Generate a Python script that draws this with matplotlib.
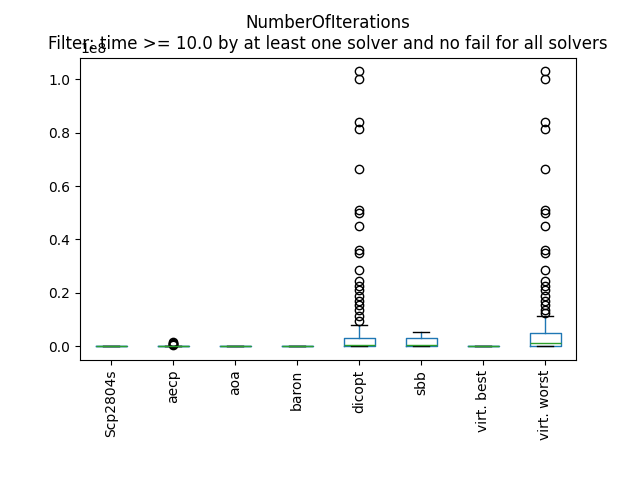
import matplotlib
matplotlib.use("Agg")
import matplotlib.pyplot as plt

labels = ["Scp2804s", "aecp", "aoa", "baron", "dicopt", "sbb", "virt. best", "virt. worst"]
# statistics in millions of iterations
q1 = [0.0, 0.0, 0.0, 0.0, 0.1, 0.05, 0.0, 0.2]
med = [0.01, 0.02, 0.01, 0.01, 0.6, 0.3, 0.01, 1.2]
q3 = [0.05, 0.1, 0.05, 0.05, 3.2, 3.0, 0.05, 5.0]
whislo = [0.0, 0.0, 0.0, 0.0, 0.0, 0.0, 0.0, 0.0]
whishi = [0.1, 0.25, 0.1, 0.1, 7.8, 5.5, 0.1, 11.5]
fliers_dicopt = [9.5, 11.5, 13.5, 15.5, 17, 19, 21, 22.5, 24.5, 28.5, 35, 36,
                 45, 50, 51, 66.5, 81.5, 84, 100, 103]
fliers_worst = [12.5, 13.5, 15.5, 17, 19, 21, 22.5, 24.5, 28.5, 35, 36,
                45, 50, 51, 66.5, 81.5, 84, 100, 103]
fliers_aecp = [0.4, 0.7, 1.0, 1.3, 1.6]

fliers = [[], fliers_aecp, [], [], fliers_dicopt, [], [], fliers_worst]
scale = 1e6
stats = []
for i, lab in enumerate(labels):
    stats.append(dict(label=lab, q1=q1[i] * scale, med=med[i] * scale, q3=q3[i] * scale,
                      whislo=whislo[i] * scale, whishi=whishi[i] * scale,
                      fliers=[f * scale for f in fliers[i]]))

fig, ax = plt.subplots(figsize=(6.4, 4.8), dpi=100)
ax.bxp(stats,
       boxprops=dict(color="#1f77b4"),
       whiskerprops=dict(color="#1f77b4"),
       medianprops=dict(color="#2ca02c"),
       capprops=dict(color="black"),
       flierprops=dict(marker="o", markerfacecolor="none", markeredgecolor="black"))
ax.set_xticklabels(labels, rotation=90)
ax.set_title("NumberOfIterations\nFilter: time >= 10.0 by at least one solver and no fail for all solvers",
             y=1.0)
fig.subplots_adjust(left=0.125, right=0.9, top=0.88, bottom=0.25)
fig.savefig("out.png", dpi=100)
